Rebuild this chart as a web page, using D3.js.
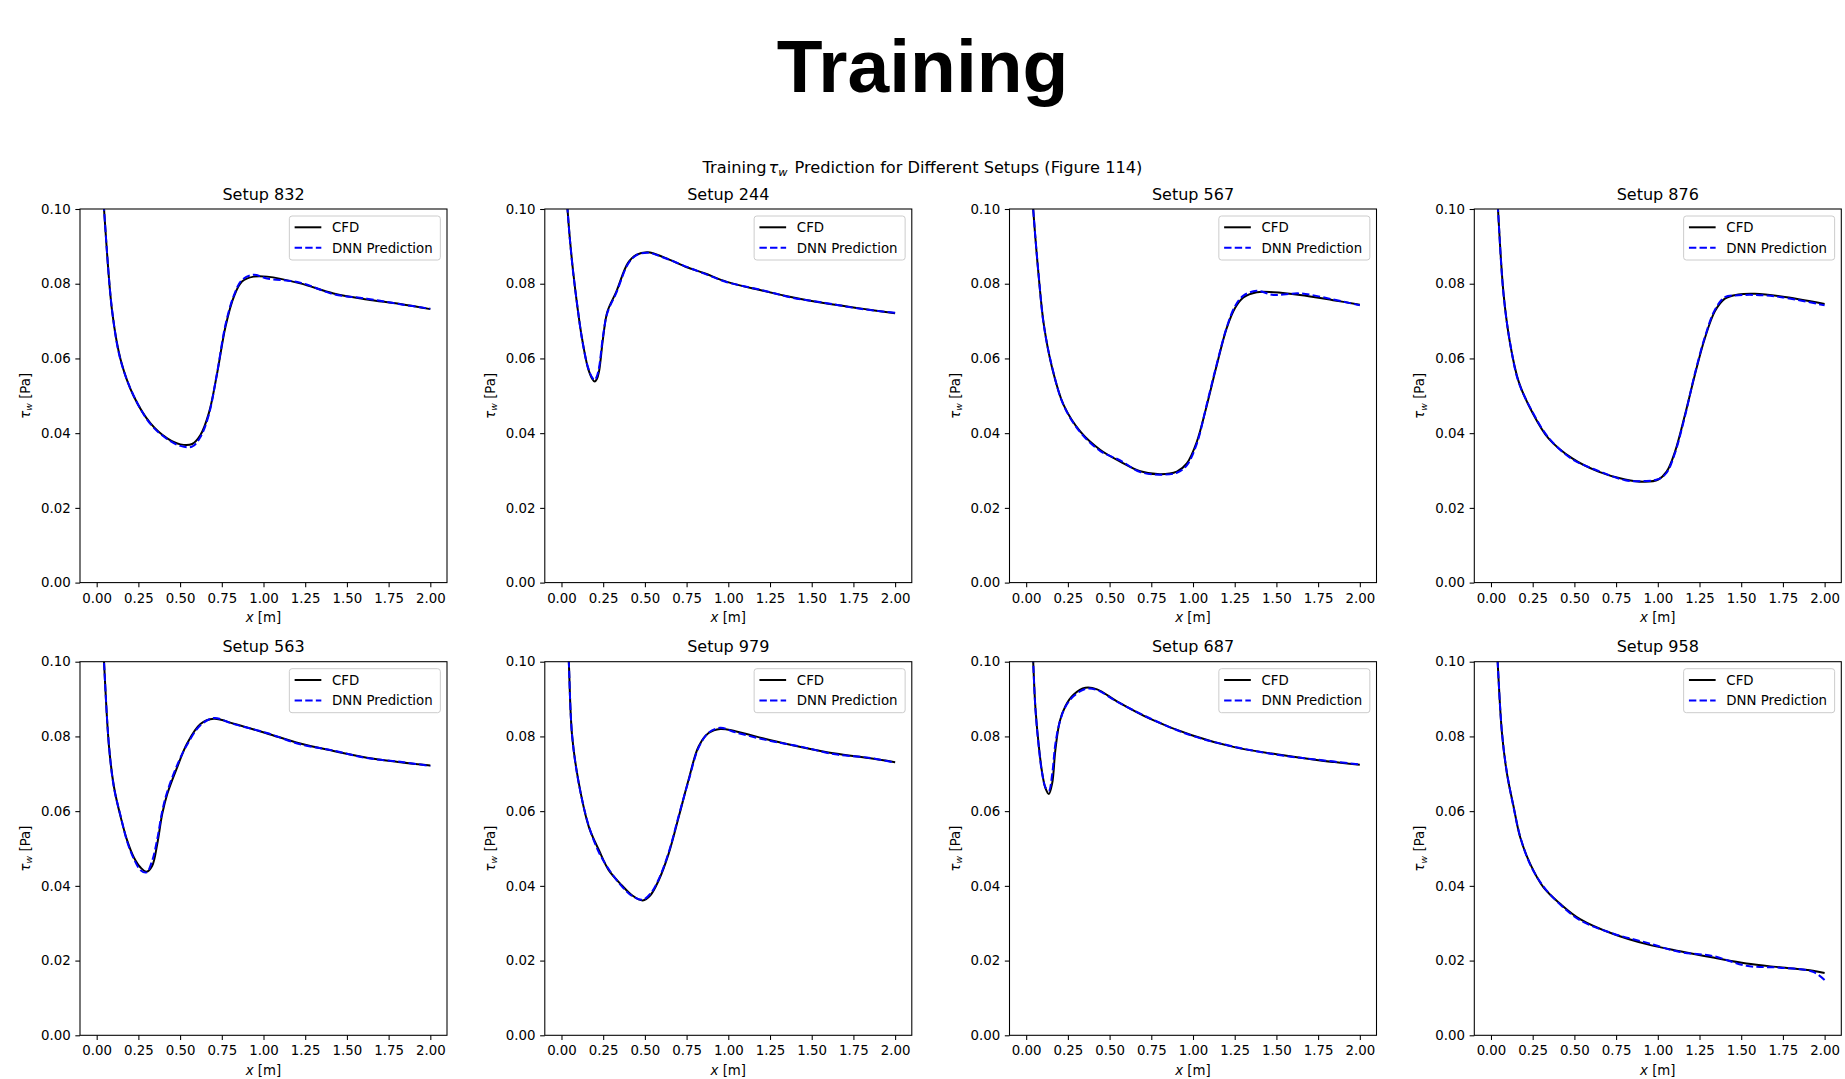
<!DOCTYPE html>
<html>
<head>
<meta charset="utf-8">
<script src="https://cdn.jsdelivr.net/npm/d3@7"></script>
<style>
  html, body { margin: 0; padding: 0; background: #fff; }
  svg { display: block; }
</style>
</head>
<body>
<div id="chart"></div>
<script>
// ---------------- DATA ----------------
const setupTitles = ["Setup 832", "Setup 244", "Setup 567", "Setup 876",
                     "Setup 563", "Setup 979", "Setup 687", "Setup 958"];

const xTicks = [0, 0.25, 0.5, 0.75, 1.0, 1.25, 1.5, 1.75, 2.0];
const yTicks = [0, 0.02, 0.04, 0.06, 0.08, 0.10];

const legendLabels = ["CFD", "DNN Prediction"];

// Setup 832
const x832   = [0.005, 0.02, 0.044, 0.094, 0.144, 0.223, 0.323, 0.423, 0.502, 0.572, 0.622, 0.672, 0.722, 0.772, 0.822, 0.871, 0.941, 1.021, 1.22, 1.42, 1.62, 1.82, 2.0];
const cfd832 = [0.1326, 0.1174, 0.100, 0.0721, 0.0596, 0.0498, 0.0426, 0.0386, 0.0370, 0.0371, 0.0395, 0.0453, 0.0560, 0.0685, 0.0765, 0.0806, 0.0819, 0.0819, 0.0801, 0.0774, 0.0758, 0.0746, 0.0732];
const dnn832 = [0.1326, 0.1174, 0.100, 0.0723, 0.0594, 0.0499, 0.0424, 0.0384, 0.0366, 0.0364, 0.0390, 0.0449, 0.0562, 0.0690, 0.0768, 0.0810, 0.0824, 0.0814, 0.0803, 0.0772, 0.0760, 0.0745, 0.0733];

// Setup 244
const x244   = [0.005, 0.02, 0.036, 0.050, 0.070, 0.094, 0.123, 0.159, 0.185, 0.199, 0.212, 0.225, 0.249, 0.275, 0.329, 0.398, 0.448, 0.518, 0.618, 0.752, 0.857, 0.992, 1.19, 1.39, 1.59, 1.79, 2.0];
const cfd244 = [0.118, 0.109, 0.100, 0.0922, 0.0832, 0.0743, 0.0654, 0.0574, 0.0545, 0.0538, 0.0545, 0.0565, 0.0654, 0.0725, 0.0779, 0.0855, 0.0877, 0.0884, 0.0870, 0.0844, 0.0828, 0.0805, 0.0783, 0.0763, 0.0747, 0.0734, 0.0721];
const dnn244 = [0.118, 0.109, 0.100, 0.0920, 0.0830, 0.0745, 0.0652, 0.0576, 0.0548, 0.0542, 0.0552, 0.0575, 0.0660, 0.0722, 0.0776, 0.0852, 0.0876, 0.0883, 0.0869, 0.0845, 0.0827, 0.0804, 0.0784, 0.0762, 0.0748, 0.0733, 0.0722];

// Setup 567
const x567   = [0.005, 0.02, 0.042, 0.076, 0.106, 0.156, 0.225, 0.325, 0.445, 0.564, 0.684, 0.804, 0.903, 0.963, 1.023, 1.083, 1.143, 1.202, 1.252, 1.302, 1.382, 1.482, 1.641, 1.84, 2.0];
const cfd567 = [0.131, 0.1156, 0.100, 0.0815, 0.0690, 0.0574, 0.0475, 0.0404, 0.0355, 0.0324, 0.0298, 0.0290, 0.0297, 0.0319, 0.0377, 0.0475, 0.0583, 0.0681, 0.0735, 0.0763, 0.0777, 0.0777, 0.0770, 0.0756, 0.0744];
const dnn567 = [0.131, 0.1156, 0.100, 0.0817, 0.0688, 0.0576, 0.0474, 0.0402, 0.0352, 0.0327, 0.0296, 0.0289, 0.0294, 0.0314, 0.0372, 0.0478, 0.0586, 0.0683, 0.0740, 0.0768, 0.0781, 0.0770, 0.0774, 0.0758, 0.0742];

// Setup 876
const x876   = [0.005, 0.02, 0.042, 0.076, 0.116, 0.166, 0.245, 0.345, 0.485, 0.644, 0.804, 0.923, 1.003, 1.053, 1.103, 1.163, 1.222, 1.282, 1.342, 1.402, 1.482, 1.581, 1.741, 2.0];
const cfd876 = [0.138, 0.119, 0.100, 0.0770, 0.0636, 0.0538, 0.0458, 0.0386, 0.0333, 0.0297, 0.0276, 0.0270, 0.0276, 0.0297, 0.0350, 0.0449, 0.0556, 0.0654, 0.0726, 0.0760, 0.0771, 0.0773, 0.0766, 0.0746];
const dnn876 = [0.138, 0.119, 0.100, 0.0768, 0.0638, 0.0536, 0.0460, 0.0388, 0.0331, 0.0299, 0.0274, 0.0272, 0.0277, 0.0294, 0.0347, 0.0446, 0.0559, 0.0657, 0.0730, 0.0764, 0.0769, 0.0770, 0.0764, 0.0742];

// Setup 563
const x563   = [0.005, 0.02, 0.044, 0.074, 0.104, 0.144, 0.183, 0.223, 0.263, 0.299, 0.333, 0.363, 0.393, 0.423, 0.483, 0.542, 0.622, 0.702, 0.822, 1.021, 1.22, 1.42, 1.62, 1.82, 2.0];
const cfd563 = [0.145, 0.124, 0.100, 0.0772, 0.0664, 0.0584, 0.0521, 0.0476, 0.0449, 0.0438, 0.0454, 0.0512, 0.0593, 0.0646, 0.0718, 0.0781, 0.0833, 0.0847, 0.0834, 0.0808, 0.0781, 0.0761, 0.0743, 0.0731, 0.0722];
const dnn563 = [0.145, 0.124, 0.100, 0.0774, 0.0662, 0.0586, 0.0518, 0.0472, 0.0442, 0.0436, 0.0468, 0.0525, 0.0600, 0.0652, 0.0724, 0.0778, 0.0830, 0.0849, 0.0833, 0.0809, 0.0779, 0.0762, 0.0742, 0.0732, 0.0721];

// Setup 979
const x979   = [0.005, 0.02, 0.044, 0.064, 0.104, 0.164, 0.224, 0.283, 0.363, 0.423, 0.487, 0.533, 0.583, 0.643, 0.703, 0.762, 0.822, 0.882, 0.952, 1.042, 1.242, 1.441, 1.641, 1.84, 2.0];
const cfd979 = [0.16, 0.131, 0.100, 0.0800, 0.0675, 0.0558, 0.0496, 0.0442, 0.0401, 0.0375, 0.0361, 0.0375, 0.0415, 0.0487, 0.0585, 0.0684, 0.0773, 0.0809, 0.0820, 0.0814, 0.0791, 0.0771, 0.0754, 0.0742, 0.0731];
const dnn979 = [0.16, 0.131, 0.100, 0.0802, 0.0673, 0.0560, 0.0490, 0.0445, 0.0398, 0.0373, 0.0363, 0.0379, 0.0418, 0.0490, 0.0588, 0.0682, 0.0770, 0.0810, 0.0823, 0.0811, 0.0789, 0.0772, 0.0752, 0.0743, 0.0730];

// Setup 687
const x687   = [0.005, 0.02, 0.042, 0.056, 0.076, 0.096, 0.116, 0.136, 0.156, 0.175, 0.201, 0.235, 0.285, 0.355, 0.425, 0.544, 0.744, 0.993, 1.242, 1.501, 1.741, 2.0];
const cfd687 = [0.15, 0.125, 0.100, 0.0872, 0.0773, 0.0702, 0.0661, 0.0646, 0.0675, 0.0764, 0.0840, 0.0881, 0.0912, 0.0930, 0.0926, 0.0894, 0.0847, 0.0803, 0.0772, 0.0752, 0.0737, 0.0724];
const dnn687 = [0.15, 0.125, 0.100, 0.0870, 0.0770, 0.0700, 0.0663, 0.0655, 0.0700, 0.0780, 0.0838, 0.0879, 0.0908, 0.0927, 0.0924, 0.0893, 0.0848, 0.0802, 0.0773, 0.0751, 0.0738, 0.0725];

// Setup 958
const x958   = [0.005, 0.02, 0.04, 0.066, 0.096, 0.136, 0.175, 0.235, 0.315, 0.415, 0.534, 0.734, 0.933, 1.133, 1.332, 1.531, 1.731, 1.93, 2.0];
const cfd958 = [0.14, 0.119, 0.100, 0.0808, 0.0700, 0.0611, 0.0530, 0.0459, 0.0396, 0.0352, 0.0311, 0.0271, 0.0244, 0.0225, 0.0208, 0.0192, 0.0182, 0.0173, 0.0167];
const dnn958 = [0.14, 0.119, 0.100, 0.0810, 0.0702, 0.0609, 0.0532, 0.0457, 0.0398, 0.0350, 0.0308, 0.0272, 0.0248, 0.0223, 0.0212, 0.0186, 0.0181, 0.0170, 0.0148];

const xs   = [x832, x244, x567, x876, x563, x979, x687, x958];
const cfds = [cfd832, cfd244, cfd567, cfd876, cfd563, cfd979, cfd687, cfd958];
const dnns = [dnn832, dnn244, dnn567, dnn876, dnn563, dnn979, dnn687, dnn958];

// ---------------- LAYOUT ----------------
const W = 1845, H = 1079;
const axW = 367, axH = 373.6;
const colLeft = [80, 544.8, 1009.5, 1474.3];
const rowTop = [209, 661.7];
const FONT = "'DejaVu Sans', sans-serif";
const fs = 13.33;
const tickLen = 4.67;

const svg = d3.select("#chart").append("svg")
  .attr("width", W).attr("height", H)
  .attr("viewBox", `0 0 ${W} ${H}`);

svg.append("rect").attr("width", W).attr("height", H).attr("fill", "#fff");

// Big title
svg.append("text")
  .attr("x", W / 2).attr("y", 92)
  .attr("text-anchor", "middle")
  .attr("font-family", "'Liberation Sans', Arial, sans-serif")
  .attr("font-weight", "bold")
  .attr("font-size", 75)
  .attr("fill", "#000")
  .text("Training");

// Suptitle
const sup = svg.append("text")
  .attr("x", W / 2).attr("y", 173)
  .attr("text-anchor", "middle")
  .attr("font-family", FONT)
  .attr("font-size", 16.2)
  .attr("fill", "#000");
sup.append("tspan").text("Training");
sup.append("tspan").attr("dx", 2).attr("font-style", "italic").text("τ");
sup.append("tspan").attr("font-style", "italic").attr("font-size", 11.3).attr("dy", 2.6).text("w");
sup.append("tspan").attr("dx", 2).attr("dy", -2.6).text(" Prediction for Different Setups (Figure 114)");

const fmt = d3.format(".2f");

setupTitles.forEach((title, i) => {
  const r = Math.floor(i / 4), c = i % 4;
  const left = colLeft[c], top = rowTop[r];

  const x = d3.scaleLinear().domain([-0.1, 2.1]).range([left, left + axW]);
  const y = d3.scaleLinear().domain([0, 0.1]).range([top + axH, top]);

  const g = svg.append("g");

  const clipId = "clip" + i;
  svg.append("clipPath").attr("id", clipId)
    .append("rect").attr("x", left).attr("y", top).attr("width", axW).attr("height", axH);

  // Axes
  const xa = g.append("g")
    .attr("transform", `translate(0,${top + axH})`)
    .call(d3.axisBottom(x).tickValues(xTicks).tickSize(tickLen).tickPadding(5.8).tickFormat(fmt));
  const ya = g.append("g")
    .attr("transform", `translate(${left},0)`)
    .call(d3.axisLeft(y).tickValues(yTicks).tickSize(tickLen).tickPadding(4.67).tickFormat(fmt));
  [xa, ya].forEach(a => {
    a.select(".domain").remove();
    a.attr("font-family", FONT).attr("font-size", fs);
    a.selectAll(".tick line").attr("stroke", "#000").attr("stroke-width", 1.07);
    a.selectAll(".tick text").attr("fill", "#000");
  });

  // Lines
  const pts = (ys) => xs[i].map((xv, k) => [xv, ys[k]]);
  const line = d3.line().x(d => x(d[0])).y(d => y(d[1])).curve(d3.curveCatmullRom.alpha(0.5));

  const plot = g.append("g").attr("clip-path", `url(#${clipId})`);
  plot.append("path")
    .attr("d", line(pts(cfds[i])))
    .attr("fill", "none").attr("stroke", "#000").attr("stroke-width", 2)
    .attr("stroke-linejoin", "round");
  plot.append("path")
    .attr("d", line(pts(dnns[i])))
    .attr("fill", "none").attr("stroke", "#0000ff").attr("stroke-width", 2)
    .attr("stroke-dasharray", "7.4 3.2");

  // Spines
  g.append("rect")
    .attr("x", left).attr("y", top).attr("width", axW).attr("height", axH)
    .attr("fill", "none").attr("stroke", "#000").attr("stroke-width", 1.07);

  // Title
  g.append("text")
    .attr("x", left + axW / 2).attr("y", top - 9.5)
    .attr("text-anchor", "middle")
    .attr("font-family", FONT).attr("font-size", 16).attr("fill", "#000")
    .text(title);

  // x label
  const xl = g.append("text")
    .attr("x", left + axW / 2).attr("y", top + axH + 39.6)
    .attr("text-anchor", "middle")
    .attr("font-family", FONT).attr("font-size", fs).attr("fill", "#000");
  xl.append("tspan").attr("font-style", "italic").text("x");
  xl.append("tspan").text(" [m]");

  // y label
  const yl = g.append("text")
    .attr("transform", `translate(${left - 50},${top + axH / 2}) rotate(-90)`)
    .attr("text-anchor", "middle")
    .attr("font-family", FONT).attr("font-size", fs).attr("fill", "#000");
  yl.append("tspan").attr("font-style", "italic").text("τ");
  yl.append("tspan").attr("font-style", "italic").attr("font-size", 9.3).attr("dy", 2.2).text("w");
  yl.append("tspan").attr("dy", -2.2).text(" [Pa]");

  // Legend
  const lgW = 151, lgH = 44;
  const lgX = left + axW - 6.67 - lgW, lgY = top + 7;
  const lg = g.append("g");
  lg.append("rect")
    .attr("x", lgX).attr("y", lgY).attr("width", lgW).attr("height", lgH)
    .attr("rx", 2.7).attr("ry", 2.7)
    .attr("fill", "#fff").attr("fill-opacity", 0.8)
    .attr("stroke", "#cccccc").attr("stroke-width", 1);
  const rowY = [lgY + 11.3, lgY + 31.7];
  const styles = [{ c: "#000", d: null }, { c: "#0000ff", d: "7.4 3.2" }];
  legendLabels.forEach((lab, k) => {
    const ln = lg.append("line")
      .attr("x1", lgX + 5.3).attr("x2", lgX + 32)
      .attr("y1", rowY[k]).attr("y2", rowY[k])
      .attr("stroke", styles[k].c).attr("stroke-width", 2);
    if (styles[k].d) ln.attr("stroke-dasharray", styles[k].d);
    lg.append("text")
      .attr("x", lgX + 42.7).attr("y", rowY[k] + 4.8)
      .attr("font-family", FONT).attr("font-size", fs).attr("fill", "#000")
      .text(lab);
  });
});
</script>
</body>
</html>
